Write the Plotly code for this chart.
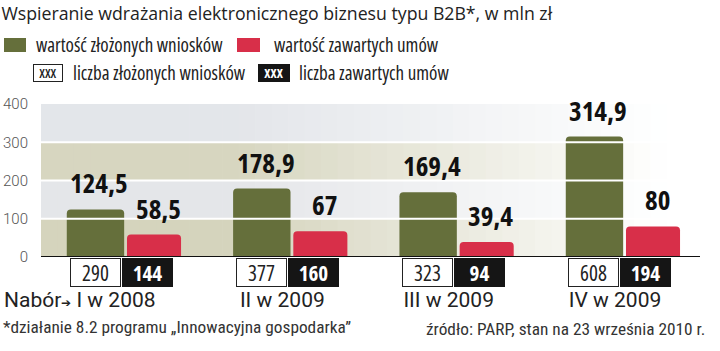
import plotly.graph_objects as go

# ---------------- data ----------------
rounds = ["I w 2008", "II w 2009", "III w 2009", "IV w 2009"]
value_submitted = [124.5, 178.9, 169.4, 314.9]   # wartość złożonych wniosków
value_signed = [58.5, 67, 39.4, 80]               # wartość zawartych umów
count_submitted = [290, 377, 323, 608]            # liczba złożonych wniosków
count_signed = [144, 160, 94, 194]                # liczba zawartych umów
y_ticks = [0, 100, 200, 300, 400]

# ---------------- layout helpers ----------------
W, H = 720, 351
L, R, T, B = 41, 20, 104, 94
PW, PH = W - L - R, H - T - B


def px(x):
    return (x - L) / PW


def py(y):
    return (H - B - y) / PH


def fmt(v):
    return str(v).replace(".", ",")


def cond(s, how="condensed"):
    return "<span style='font-stretch:%s'>" % how + s + "</span>"


GREEN = "#656f3b"
RED = "#d82f49"
COND = "'Open Sans', Roboto, sans-serif"
REG = "Roboto, 'Open Sans', 'Noto Sans', sans-serif"

xs = list(range(len(rounds)))
G_OFF, G_W = -0.35, 0.345
R_OFF, R_W = 0.012, 0.325

fig = go.Figure()
fig.add_bar(x=xs, y=value_submitted, offset=G_OFF, width=G_W,
            marker=dict(color=GREEN, line_width=0),
            name="wartość złożonych wniosków", showlegend=False, hoverinfo="skip")
fig.add_bar(x=xs, y=value_signed, offset=R_OFF, width=R_W,
            marker=dict(color=RED, line_width=0),
            name="wartość zawartych umów", showlegend=False, hoverinfo="skip")

shapes = []
annotations = []

# background bands fading to white on the right
band_cols = [(0xd5, 0xd4, 0xbd), (0xe4, 0xe6, 0xe9), (0xd7, 0xd6, 0xc0), (0xe3, 0xe6, 0xea)]
N = 40
for k in range(len(y_ticks) - 1):
    base = band_cols[k]
    for j in range(N):
        xm = (j + 0.5) / N
        t = min(max((xm - 0.3) / 0.65, 0), 1)
        c = tuple(round(base[i] * (1 - t) + 255 * t) for i in range(3))
        shapes.append(dict(type="rect", xref="paper", yref="y",
                           x0=j / N, x1=(j + 1) / N + 0.001,
                           y0=y_ticks[k], y1=y_ticks[k + 1],
                           fillcolor="rgb(%d,%d,%d)" % c, line_width=0, layer="below"))

# white grid lines over bars
for yv in y_ticks[1:-1]:
    shapes.append(dict(type="line", xref="paper", yref="y", x0=0, x1=1, y0=yv, y1=yv,
                       line=dict(color="white", width=2), layer="above"))
# baseline
shapes.append(dict(type="line", xref="paper", yref="y", x0=0, x1=1, y0=0, y1=0,
                   line=dict(color="#111", width=2), layer="above"))

val_font = dict(family=COND, size=27, color="#111", weight=700)
# value labels and count boxes
for i in xs:
    annotations.append(dict(x=i + G_OFF + G_W / 2, y=value_submitted[i], xref="x", yref="y",
                            text=cond(fmt(value_submitted[i])), showarrow=False,
                            xanchor="center", yanchor="bottom", yshift=6, xshift=4,
                            font=val_font))
    annotations.append(dict(x=i + R_OFF + R_W / 2, y=value_signed[i], xref="x", yref="y",
                            text=cond(fmt(value_signed[i])), showarrow=False,
                            xanchor="center", yanchor="bottom", yshift=6, xshift=4,
                            font=val_font))
    annotations.append(dict(x=i, y=0, xref="x", yref="y", xshift=-30, yshift=-1,
                            text=cond("%d" % count_submitted[i]), showarrow=False,
                            xanchor="center", yanchor="top", width=47, height=25,
                            bgcolor="white", bordercolor="#222", borderwidth=1, borderpad=1,
                            font=dict(family=COND, size=21, color="#222")))
    annotations.append(dict(x=i, y=0, xref="x", yref="y", xshift=22, yshift=-1,
                            text=cond("%d" % count_signed[i]), showarrow=False,
                            xanchor="center", yanchor="top", width=47, height=25,
                            bgcolor="#151515", bordercolor="#151515", borderwidth=1, borderpad=1,
                            font=dict(family=COND, size=21, color="white", weight=700)))

# "Nabór" label
annotations.append(dict(x=px(2), y=py(300), xref="paper", yref="paper",
                        text="Nabór<span style='font-size:12px'>➔</span>",
                        showarrow=False, xanchor="left", yanchor="middle",
                        font=dict(family=REG, size=21, color="#222")))

# legend
shapes.append(dict(type="rect", xref="paper", yref="paper", x0=px(4), x1=px(26), y0=py(52), y1=py(38),
                   fillcolor=GREEN, line_width=0))
shapes.append(dict(type="rect", xref="paper", yref="paper", x0=px(237), x1=px(260), y0=py(52), y1=py(38),
                   fillcolor=RED, line_width=0))
leg_font = dict(family=COND, size=19, color="#222")
annotations.append(dict(x=px(34), y=py(45), xref="paper", yref="paper", text=cond("wartość złożonych wniosków"),
                        showarrow=False, xanchor="left", yanchor="middle", font=leg_font))
annotations.append(dict(x=px(272), y=py(45), xref="paper", yref="paper", text=cond("wartość zawartych umów"),
                        showarrow=False, xanchor="left", yanchor="middle", font=leg_font))
annotations.append(dict(x=px(48), y=py(73), xref="paper", yref="paper", text=cond("XXX"),
                        showarrow=False, xanchor="center", yanchor="middle", width=26, height=14,
                        bgcolor="white", bordercolor="#222", borderwidth=1, borderpad=1,
                        font=dict(family=COND, size=13, color="#222", weight=600)))
annotations.append(dict(x=px(274), y=py(73), xref="paper", yref="paper", text=cond("XXX"),
                        showarrow=False, xanchor="center", yanchor="middle", width=28, height=14,
                        bgcolor="#151515", bordercolor="#151515", borderwidth=1, borderpad=1,
                        font=dict(family=COND, size=13, color="white", weight=700)))
annotations.append(dict(x=px(71), y=py(73), xref="paper", yref="paper", text=cond("liczba złożonych wniosków"),
                        showarrow=False, xanchor="left", yanchor="middle", font=leg_font))
annotations.append(dict(x=px(297), y=py(73), xref="paper", yref="paper", text=cond("liczba zawartych umów"),
                        showarrow=False, xanchor="left", yanchor="middle", font=leg_font))

# footnotes
FOOT = "Roboto, 'Open Sans', sans-serif"
annotations.append(dict(x=px(1), y=py(327), xref="paper", yref="paper",
                        text=cond("*działanie 8.2 programu „Innowacyjna gospodarka”"),
                        showarrow=False, xanchor="left", yanchor="middle",
                        font=dict(family=FOOT, size=17.3, color="#333")))
annotations.append(dict(x=px(707), y=py(329), xref="paper", yref="paper",
                        text=cond("źródło: PARP, stan na 23 września 2010 r."),
                        showarrow=False, xanchor="right", yanchor="middle",
                        font=dict(family=FOOT, size=17.3, color="#333")))

fig.update_layout(
    width=W, height=H,
    margin=dict(l=L, r=R, t=T, b=B, pad=0),
    paper_bgcolor="white", plot_bgcolor="white",
    barmode="overlay", barcornerradius=4,
    title=dict(text="Wspieranie wdrażania elektronicznego biznesu typu B2B*, w mln zł",
               x=0.002, xanchor="left", xref="container",
               y=1 - 14 / H, yanchor="middle",
               font=dict(family=COND, size=17.7, color="#222")),
    shapes=shapes, annotations=annotations,
    showlegend=False,
    xaxis=dict(range=[-0.505, 3.457], tickvals=xs, ticktext=rounds, showgrid=False,
               zeroline=False, showline=False, ticks="", ticklabelstandoff=28,
               ticklabelshift=-9, automargin=False,
               tickfont=dict(family=REG, size=21, color="#222")),
    yaxis=dict(range=[0, 400], tickvals=y_ticks, showgrid=False, zeroline=False,
               showline=False, ticks="outside", ticklen=9, tickcolor="rgba(0,0,0,0)",
               automargin=False,
               tickfont=dict(family=REG, size=15, color="#555", weight=300)),
)

fig.write_html("out.html")
